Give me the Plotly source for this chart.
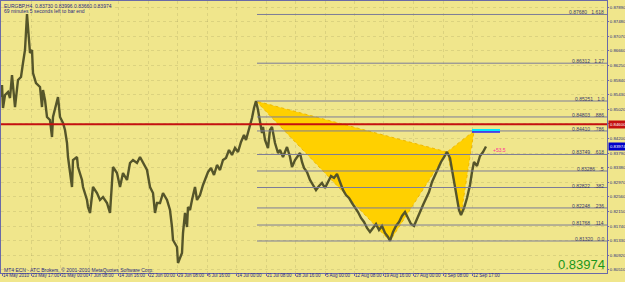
import plotly.graph_objects as go

# ---------------- data ----------------
bars = [1, 2, 3, 5, 8, 10, 12, 15, 18, 21, 23, 25, 27, 29, 30, 32, 33, 36, 40, 42, 43, 45, 47, 50, 52, 53, 57, 58, 60, 63,
        65, 67, 68, 70, 72, 73, 77, 78, 82, 83, 87, 88, 90, 93, 97, 100, 103, 107, 110, 113, 117, 120, 123, 127, 130, 133,
        137, 140, 143, 147, 150, 153, 155, 157, 160, 163, 167, 170, 172, 173, 177, 178, 182, 183, 185, 187, 188, 190, 192,
        195, 197, 200, 203, 205, 208, 211, 214, 217, 220, 223, 226, 229, 232, 235, 238, 241, 244, 246, 248, 250, 252, 254,
        256, 258, 260, 262, 263, 265, 268, 270, 272, 273, 275, 278, 280, 283, 287, 290, 292, 295, 297, 300, 302, 304, 307,
        310, 313, 316, 319, 322, 325, 328, 331, 334, 337, 340, 343, 346, 349, 352, 355, 358, 361, 364, 367, 370, 373, 376,
        379, 382, 385, 388, 390, 393, 396, 399, 402, 405, 408, 411, 414, 417, 420, 423, 426, 429, 432, 435, 438, 441, 444,
        447, 450, 453, 456, 459, 461, 464, 467, 470, 472, 474, 477, 480, 483, 486]
prices = [0.85363, 0.85700, 0.85054, 0.85419, 0.85504, 0.85335, 0.85981, 0.85082, 0.85841, 0.85925, 0.86318, 0.86683,
          0.87694, 0.86964, 0.86599, 0.86683, 0.86037, 0.85756, 0.85644, 0.85082, 0.85560, 0.85279, 0.84802, 0.84717,
          0.84240, 0.84802, 0.85279, 0.85363, 0.84802, 0.84633, 0.84437, 0.84072, 0.83678, 0.83229, 0.82836, 0.83594,
          0.83678, 0.83398, 0.83033, 0.82836, 0.82471, 0.82274, 0.82106, 0.82836, 0.82668, 0.82471, 0.82555, 0.82387,
          0.82106, 0.83398, 0.83229, 0.82836, 0.83229, 0.83033, 0.83510, 0.83594, 0.83510, 0.83678, 0.83510, 0.83313,
          0.82836, 0.82668, 0.82106, 0.82387, 0.82387, 0.82668, 0.82471, 0.82190, 0.81713, 0.81348, 0.81151, 0.80702,
          0.80983, 0.81544, 0.82106, 0.81713, 0.82274, 0.82190, 0.82471, 0.82836, 0.82471,
          0.82611, 0.82892, 0.83033, 0.83257, 0.83370, 0.83173, 0.83454, 0.83313, 0.83594, 0.83650, 0.83875, 0.83735,
          0.83931, 0.83819, 0.84100, 0.84296, 0.84156, 0.84352, 0.84577, 0.84774, 0.85054, 0.85251, 0.84998, 0.84717,
          0.84352, 0.84521, 0.84156, 0.83931, 0.84437, 0.84521, 0.84352, 0.84072, 0.83791, 0.83875, 0.83678, 0.83959,
          0.83678, 0.83398, 0.83594, 0.83678, 0.83791, 0.83538, 0.83370, 0.83257, 0.83033, 0.82892, 0.82752, 0.82864,
          0.82948, 0.82808, 0.82976, 0.83145, 0.83089, 0.83201, 0.82976, 0.82752, 0.82611, 0.82527, 0.82387, 0.82274,
          0.82134, 0.81966, 0.81853, 0.81685, 0.81572, 0.81685, 0.81797, 0.81629, 0.81741, 0.81544, 0.81432, 0.81320,
          0.81572, 0.81741, 0.81853, 0.82022, 0.82134, 0.81966, 0.81797, 0.81741, 0.81966, 0.82134, 0.82331, 0.82527,
          0.82696, 0.82976, 0.83173, 0.83370, 0.83538, 0.83678, 0.83819, 0.83650, 0.83173, 0.82611, 0.82190, 0.82050,
          0.82246, 0.82527, 0.82892, 0.83257, 0.83538, 0.83426, 0.83707, 0.83819, 0.83974]

date_bars = [2, 31, 60, 89, 118, 148, 177, 207, 236, 266, 295, 325, 354, 383, 413, 443, 472]
date_labels = ["14 May 2010", "23 May 17:00", "31 May 00:00", "7 Jun 08:00", "14 Jun 16:00", "22 Jun 00:00",
               "29 Jun 08:00", "6 Jul 16:00", "14 Jul 00:00", "21 Jul 08:00", "28 Jul 16:00", "5 Aug 00:00",
               "12 Aug 08:00", "19 Aug 16:00", "27 Aug 00:00", "3 Sep 08:00", "12 Sep 17:00"]

price_ticks = [0.87890, 0.87480, 0.87070, 0.86660, 0.86250, 0.85840, 0.85430, 0.85020, 0.84610, 0.84200,
               0.83790, 0.83380, 0.82970, 0.82560, 0.82150, 0.81740, 0.81330, 0.80920, 0.80510]

# harmonic pattern points X, A, B, C, D
pattern_bars = [256, 390, 447, 461, 474]
pattern_prices = [0.85251, 0.81320, 0.83819, 0.82050, 0.84410]

# fibonacci retracement (from X high to A low)
fib_start_bar = 257
fib_high = 0.85251
fib_low = 0.81320
fib_ratios = [0.0, 0.114, 0.236, 0.382, 0.5, 0.618, 0.786, 0.886, 1.0, 1.27, 1.618]
fib_texts = ["0.0", ".114", ".236", ".382", ".5", ".618", ".786", ".886", "1.0", "1.27", "1.618"]

red_level = 0.84600
prz_bars = [472, 500]
prz_prices = [0.84437, 0.84381]
pips_text = "+53.5"
pips_bar = 491
pips_price = 0.83875

symbol_text = "EURGBP,H4  0.83730 0.83996 0.83660 0.83974"
timer_text = "69 minutes 5 seconds left to bar end"
copyright_text = "MT4 ECN - ATC Brokers, \u00a9 2001-2010 MetaQuotes Software Corp."
last_price = 0.83974

# ---------------- styling ----------------
BG = "#F0E68C"
AXIS = "#6a6aa8"
TXT = "#2a2a80"
FONT = "Liberation Sans, Arial, sans-serif"
GRID = "rgba(130,120,70,0.18)"
X_RANGE = [1, 607]
Y_RANGE = [0.80421, 0.88059]

fig = go.Figure()

# pattern triangles XAB and BCD
tri1 = [0, 1, 2, 0]
tri2 = [2, 3, 4, 2]
for tri in (tri1, tri2):
    fig.add_trace(go.Scatter(
        x=[pattern_bars[i] for i in tri], y=[pattern_prices[i] for i in tri],
        mode="lines", fill="toself", fillcolor="#FFD000",
        line=dict(color="#F0B800", width=1, dash="dot"), hoverinfo="skip", showlegend=False))

# price series
fig.add_trace(go.Scatter(x=bars, y=prices, mode="lines",
                         line=dict(color="#55552a", width=2.4), showlegend=False, hoverinfo="skip"))

# fibonacci lines + labels
for r, t in zip(fib_ratios, fib_texts):
    lvl = fib_low + r * (fib_high - fib_low)
    fig.add_shape(type="line", x0=fib_start_bar, x1=X_RANGE[1], y0=lvl, y1=lvl,
                  xref="x", yref="y", line=dict(color="#7c7c98", width=1))
    fig.add_annotation(x=X_RANGE[1] - 2, y=lvl, xref="x", yref="y", text=f"{lvl:.5f}   {t}",
                       showarrow=False, xanchor="right", yanchor="bottom", yshift=-2,
                       font=dict(family=FONT, size=5, color="#3a3a6a"), borderpad=0)

# red horizontal line
fig.add_shape(type="line", xref="paper", x0=0, x1=1, yref="y", y0=red_level, y1=red_level,
              line=dict(color="#c41010", width=2))

# PRZ short lines
fig.add_shape(type="line", xref="x", x0=prz_bars[0], x1=prz_bars[1], yref="y", y0=prz_prices[0], y1=prz_prices[0],
              line=dict(color="#00e8ff", width=2))
fig.add_shape(type="line", xref="x", x0=prz_bars[0], x1=prz_bars[1], yref="y", y0=prz_prices[1], y1=prz_prices[1],
              line=dict(color="#2020ff", width=1.5))

fig.add_annotation(x=pips_bar, y=pips_price, xref="x", yref="y", text=pips_text, showarrow=False,
                   xanchor="left", font=dict(family=FONT, size=5, color="#ff3399"))

# header texts
fig.add_annotation(x=0.003, y=1, xref="paper", yref="paper", yshift=-1, text=symbol_text, showarrow=False,
                   xanchor="left", yanchor="top", font=dict(family=FONT, size=5, color=TXT), borderpad=0)
fig.add_annotation(x=0.003, y=1, xref="paper", yref="paper", yshift=-6, text=timer_text, showarrow=False,
                   xanchor="left", yanchor="top", font=dict(family=FONT, size=5, color=TXT), borderpad=0)
fig.add_annotation(x=0.003, y=0, xref="paper", yref="paper", yshift=3, text=copyright_text, showarrow=False,
                   xanchor="left", yanchor="middle", font=dict(family=FONT, size=5, color=TXT), borderpad=0)
fig.add_annotation(x=0.998, y=0, xref="paper", yref="paper", yshift=9, text=f"{last_price:.5f}", showarrow=False,
                   xanchor="right", yanchor="middle", font=dict(family=FONT, size=13, color="#1a961a"), borderpad=0)

# price axis boxes
fig.add_annotation(x=1, y=red_level, xref="paper", yref="y", text=f"{red_level:.5f}", showarrow=False,
                   xanchor="left", yanchor="middle", bgcolor="#c41010", xshift=1,
                   font=dict(family=FONT, size=4.3, color="white"), borderpad=1)
fig.add_annotation(x=1, y=last_price, xref="paper", yref="y", text=f"{last_price:.5f}", showarrow=False,
                   xanchor="left", yanchor="middle", bgcolor="#0000c8", xshift=1,
                   font=dict(family=FONT, size=4.3, color="white"), borderpad=1)

fig.update_layout(
    width=625, height=282, template="none",
    margin=dict(l=1, r=18, t=1, b=9),
    paper_bgcolor=BG, plot_bgcolor=BG, showlegend=False,
    xaxis=dict(range=X_RANGE, tickmode="array", tickvals=date_bars, ticktext=date_labels,
               ticks="outside", ticklen=2, tickcolor=AXIS, showline=True, linecolor=AXIS, linewidth=1,
               mirror=True, tickfont=dict(family=FONT, size=4.5, color=TXT), ticklabelposition="outside right",
               tickangle=0, ticklabelstandoff=-2,
               showgrid=True, gridcolor=GRID, griddash="dot", gridwidth=1,
               zeroline=False, automargin=False),
    yaxis=dict(range=Y_RANGE, side="right", tickmode="array", tickvals=price_ticks,
               ticktext=[f"{v:.5f}" for v in price_ticks],
               ticks="outside", ticklen=1, tickcolor=AXIS, showline=True, linecolor=AXIS, linewidth=1,
               mirror=True, tickfont=dict(family=FONT, size=4.3, color=TXT),
               showgrid=True, gridcolor=GRID, griddash="dot", gridwidth=1,
               zeroline=False, automargin=False),
)

fig.write_html("out.html")
